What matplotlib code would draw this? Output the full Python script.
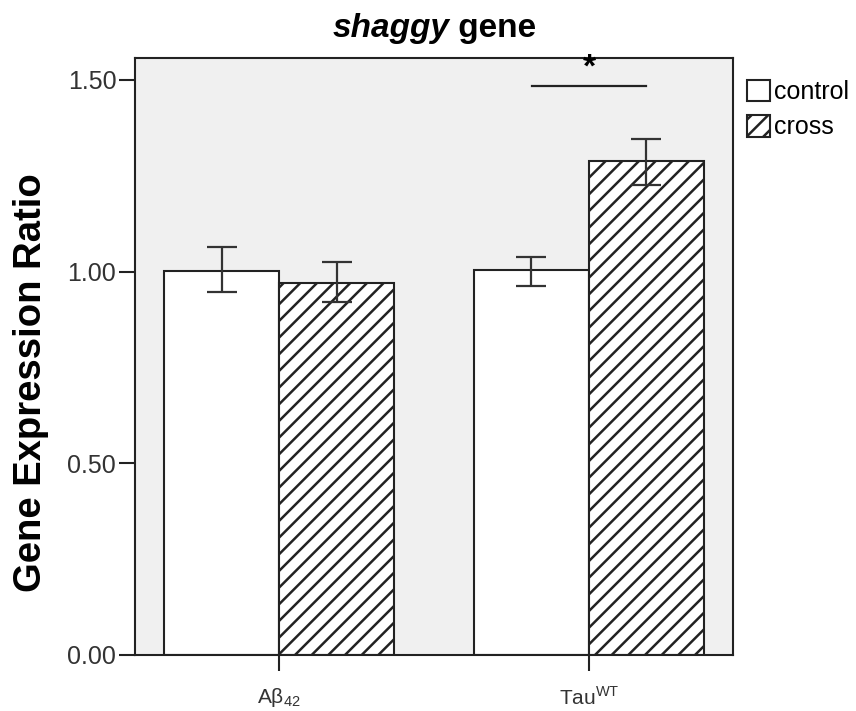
import matplotlib.pyplot as plt
import numpy as np

groups = ['Aβ$_{\\mathregular{42}}$', 'Tau$^{\\mathregular{WT}}$']
control = [1.002, 1.003]
control_lo = [0.947, 0.962]
control_hi = [1.064, 1.039]
cross = [0.970, 1.288]
cross_lo = [0.921, 1.226]
cross_hi = [1.025, 1.346]

plt.rcParams['font.family'] = ['Liberation Sans', 'DejaVu Sans']
plt.rcParams['hatch.linewidth'] = 1.8
plt.rcParams['hatch.color'] = '#222222'

fig = plt.figure(figsize=(8.56, 7.11), dpi=100)
ax = fig.add_axes([135 / 856, 56 / 711, 598 / 856, 597 / 711])
ax.set_facecolor('#f0f0f0')

x = np.arange(len(groups))
w = 0.371

ax.bar(x - w / 2, control, w, facecolor='white', edgecolor='#222222', linewidth=1.5,
       label='control', zorder=2)
ax.bar(x + w / 2, cross, w, facecolor='white', edgecolor='#222222', linewidth=1.5,
       hatch='//', label='cross', zorder=2)

err_c = [np.array(control) - np.array(control_lo), np.array(control_hi) - np.array(control)]
err_x = [np.array(cross) - np.array(cross_lo), np.array(cross_hi) - np.array(cross)]
ax.errorbar(x - w / 2, control, yerr=err_c, fmt='none', ecolor='#333333',
            elinewidth=1.6, capsize=10.5, capthick=1.6, zorder=3)
ax.errorbar(x + w / 2, cross, yerr=err_x, fmt='none', ecolor='#333333',
            elinewidth=1.6, capsize=10.5, capthick=1.6, zorder=3)

# significance bar over Tau
ax.plot([1 - 0.185, 1 + 0.185], [1.484, 1.484], color='#222222', lw=1.6, zorder=3)
ax.text(1.0, 1.49, '*', ha='center', va='bottom', fontsize=24, fontweight='bold')

ax.set_xlim(-0.465, 1.465)
ax.set_ylim(0, 1.557)
ax.set_xticks(x)
ax.set_xticklabels(groups, fontsize=15, color='#333333')
ax.set_yticks([0, 0.5, 1.0, 1.5])
ax.set_yticklabels(['0.00', '0.50', '1.00', '1.50'], fontsize=18, color='#333333')
ax.tick_params(axis='both', length=11.5, width=1.5, color='#222222')
ax.tick_params(axis='y', pad=2)
ax.tick_params(axis='x', pad=11)
for s in ax.spines.values():
    s.set_linewidth(1.5)
    s.set_color('#222222')

fig.text(31 / 856, 1 - 383 / 711, 'Gene Expression Ratio', rotation=90, fontsize=27.5,
         fontweight='bold', ha='center', va='center')

t1 = fig.text(0.5, 1 - 29 / 711, 'shaggy', fontsize=24, fontweight='bold',
              fontstyle='italic', ha='center', va='center')
fig.canvas.draw()
bb = t1.get_window_extent()
full_w = bb.width * 1.62
t1.set_x((427 - full_w / 2) / 856)
t1.set_ha('left')
ax.annotate(' gene', xy=(1, 0), xycoords=t1, va='bottom', ha='left',
            fontsize=24, fontweight='bold')

leg = ax.legend(loc='upper left', bbox_to_anchor=(744 / 856, 1 - 77 / 711),
                bbox_transform=fig.transFigure, frameon=False,
                fontsize=18, handlelength=0.95, handleheight=0.95, handletextpad=0.15,
                borderaxespad=0, borderpad=0.1, labelspacing=0.45)

plt.savefig('out.png', dpi=100)
